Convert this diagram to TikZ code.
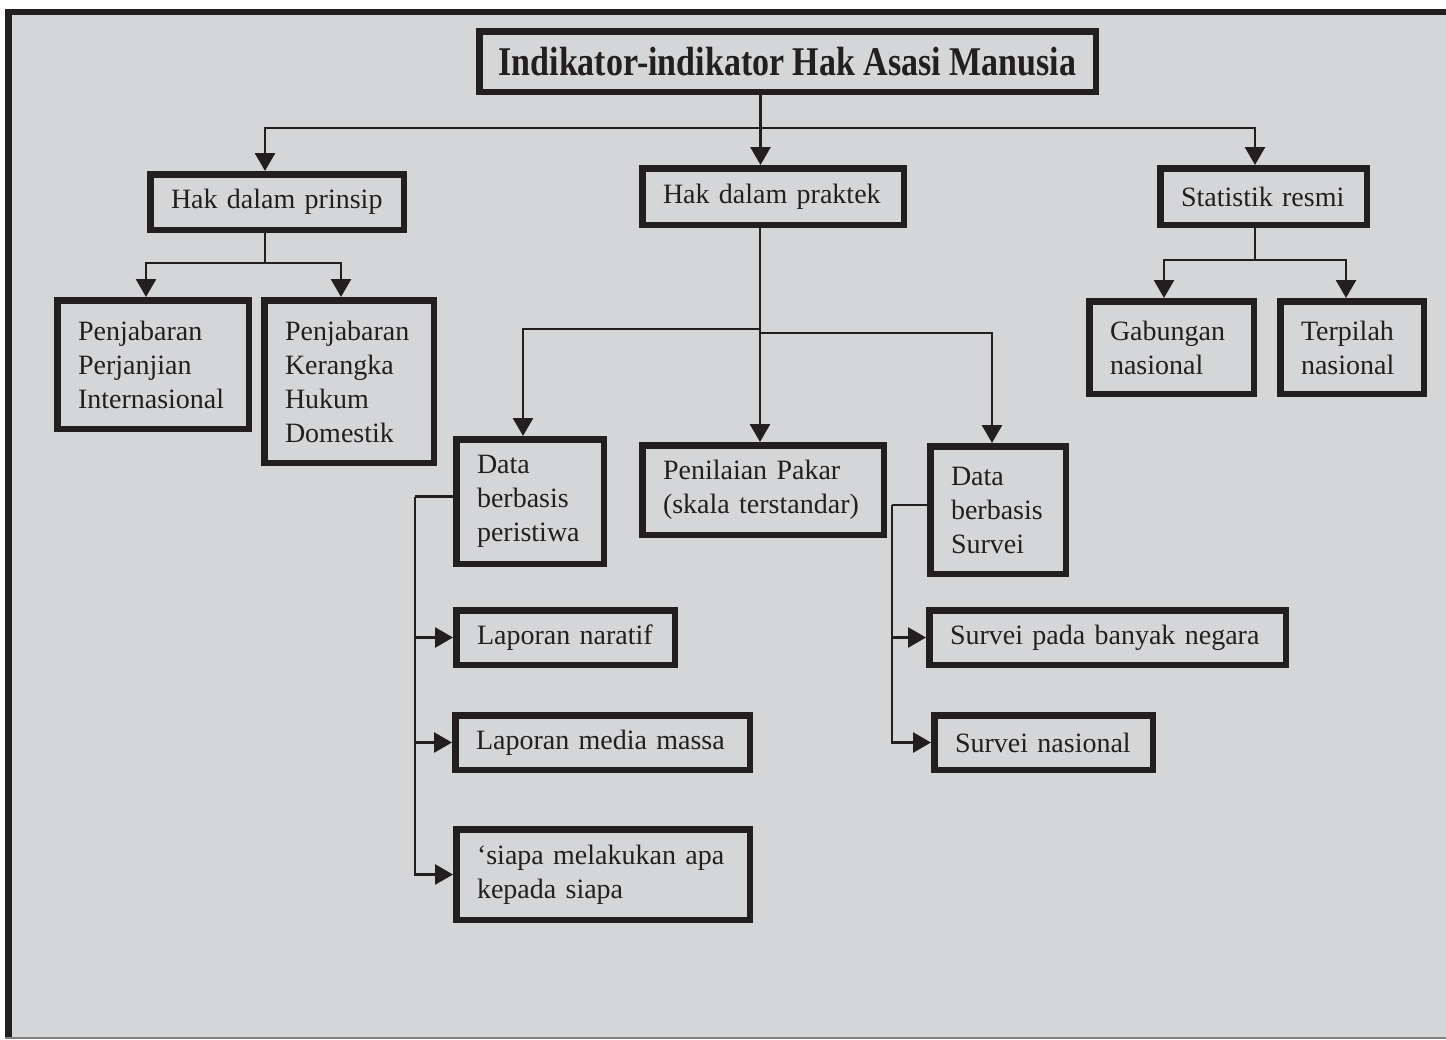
\documentclass[tikz,border=0pt]{standalone}
\usepackage{fontspec}
\setmainfont{Liberation Serif}
\usepackage{graphicx}
\usepackage{xcolor}
\usepackage{tikz}
\usetikzlibrary{
	arrows.meta,
	calc
}
\definecolor{panel}{RGB}{213,214,216}
\definecolor{ink}{RGB}{35,31,32}
\newcommand\BoxAt[6]{
	% #1: node name
	% #2, #3: left and top (px)
	% #4, #5: right and bottom (px)
	% #6: text
	\pgfmathsetmacro\BoxW{#4-#2-6.5}
	\pgfmathsetmacro\BoxH{#5-#3-6.5}
	\pgfmathsetmacro\BoxT{#4-#2-48}
	\node[box, minimum width=\BoxW pt, minimum height=\BoxH pt, text width=\BoxT pt]
		(#1) at ({(#2+#4)/2},{-(#3+#5)/2}) {#6};
}
\tikzset{>={Triangle[length=18pt,width=20pt]}}

\begin{document}
\begin{tikzpicture}[
		x=1pt, y=1pt,
		box/.style={draw=ink, line width=6.5pt, fill=panel, text=ink, inner sep=0pt,
			align=left, font=\fontsize{28}{34}\selectfont},
		conn/.style={draw=ink, line width=2.8pt},
		arr/.style={conn, ->}
		]

	% frame
	\useasboundingbox (0,0) rectangle (1446,-1039);
	\fill[white] (0,0) rectangle (1446,-1039);
	\fill[panel] (5,-9) rectangle (1446,-1039);
	\fill[ink] (5,-9) rectangle (1446,-15);
	\fill[ink] (5,-9) rectangle (12,-1037);
	\fill[gray] (5,-1036.5) rectangle (1446,-1039);

	% title
	\node[box, align=center, minimum width=616.5pt, minimum height=60.5pt,
		font=\fontsize{34}{38}\selectfont\bfseries]
		(title) at (787.5,-61.5) {\scalebox{1}[1.2]{Indikator-indikator Hak Asasi Manusia}};

	% second row
	\BoxAt{prinsip}{147}{171}{407}{233}{Hak dalam prinsip}
	\BoxAt{praktek}{639}{165}{907}{228}{Hak dalam praktek}
	\BoxAt{statistik}{1157}{165}{1370}{228}{Statistik resmi}

	% under prinsip and statistik
	\BoxAt{perjanjian}{54}{297}{252}{432}{Penjabaran\\Perjanjian\\Internasional}
	\BoxAt{domestik}{261}{297}{437}{466}{Penjabaran\\Kerangka\\Hukum\\Domestik}
	\BoxAt{gabungan}{1086}{298}{1257}{397}{Gabungan\\nasional}
	\BoxAt{terpilah}{1277}{298}{1427}{397}{Terpilah\\nasional}

	% under praktek
	\BoxAt{peristiwa}{453}{436}{607}{567}{Data\\berbasis\\peristiwa}
	\BoxAt{pakar}{639}{442}{887}{538}{Penilaian Pakar\\(skala terstandar)}
	\BoxAt{survei}{927}{443}{1069}{577}{Data\\berbasis\\Survei}

	\BoxAt{naratif}{453}{607}{678}{668}{Laporan naratif}
	\BoxAt{media}{452}{712}{753}{773}{Laporan media massa}
	\BoxAt{siapa}{453}{826}{753}{923}{‘siapa melakukan apa\\kepada siapa}
	\BoxAt{negara}{926}{607}{1289}{668}{Survei pada banyak negara}
	\BoxAt{nasional}{931}{712}{1156}{773}{Survei nasional}

	% connectors
	\draw[conn] ([xshift=-27pt]title.south) -- ++(0,-33) coordinate (tb);
	\draw[arr] (tb) -| ([xshift=-12pt]prinsip.north);
	\draw[arr] (tb) -- (tb |- praktek.north);
	\draw[arr] (tb) -| ([xshift=-8.5pt]statistik.north);

	\draw[conn] ([xshift=-12pt]prinsip.south) -- ++(0,-30) coordinate (pb);
	\draw[arr] (pb) -| ([xshift=-7pt]perjanjian.north);
	\draw[arr] (pb) -| ([xshift=-8pt]domestik.north);

	\draw[conn] ([xshift=-8.5pt]statistik.south) -- ++(0,-32) coordinate (sb);
	\draw[arr] (sb) -| ([xshift=-7.5pt]gabungan.north);
	\draw[arr] (sb) -| ([xshift=-6pt]terpilah.north);

	\draw[conn] ([xshift=-13pt]praktek.south) -- ++(0,-101) coordinate (kb);
	\draw[arr] (kb) -| ([xshift=-7pt]peristiwa.north);
	\draw[arr] (kb) -- (kb |- pakar.north);
	\draw[arr] ([yshift=-4pt]kb) -| ([xshift=-6pt]survei.north);

	\draw[conn] ([yshift=5pt]peristiwa.west) -- ++(-38,0) coordinate (eb);
	\foreach \n in {naratif, media, siapa}
		\draw[arr] (eb) |- (\n.west);

	\draw[conn] ([yshift=5pt]survei.west) -- ++(-35,0) coordinate (vb);
	\foreach \n in {negara, nasional}
		\draw[arr] (vb) |- (\n.west);

\end{tikzpicture}
\end{document}
